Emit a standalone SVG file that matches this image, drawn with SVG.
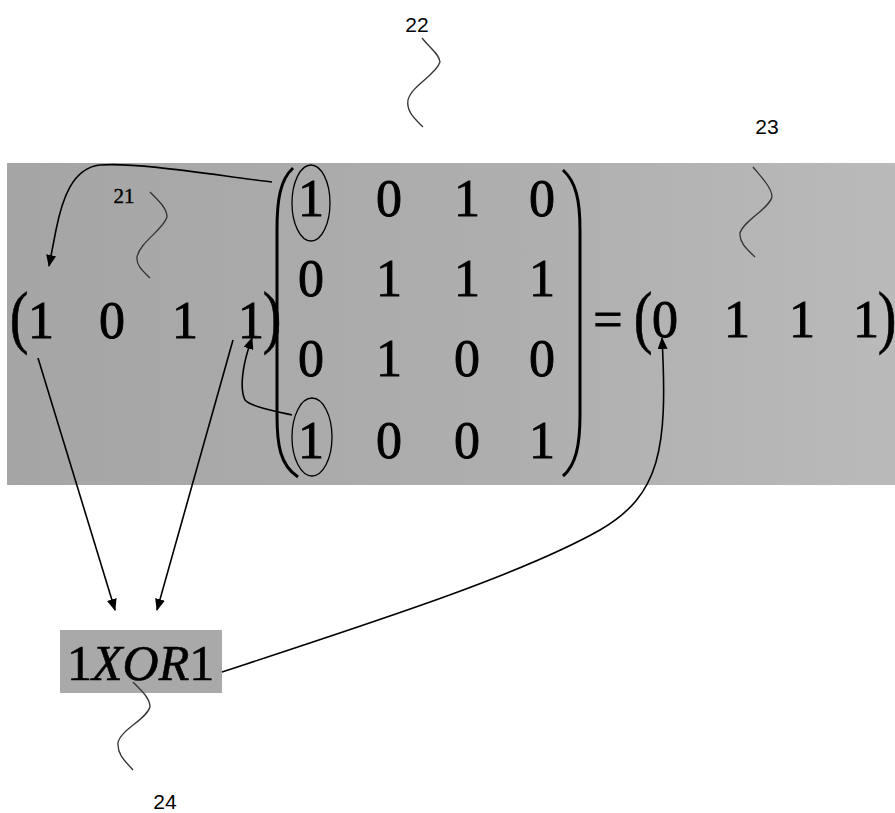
<svg xmlns="http://www.w3.org/2000/svg" width="895" height="813" viewBox="0 0 895 813">
<defs>
<linearGradient id="band" x1="0" y1="0" x2="1" y2="0">
<stop offset="0" stop-color="#a5a5a5"/>
<stop offset="0.6" stop-color="#afafaf"/>
<stop offset="1" stop-color="#bababa"/>
</linearGradient>
<marker id="arr" viewBox="0 0 12 10" refX="11" refY="5" markerWidth="12" markerHeight="10" markerUnits="userSpaceOnUse" orient="auto">
<path d="M0,0 L12,5 L0,10 Z" fill="#000"/>
</marker>
<style>
.dig{font-family:"Liberation Serif","Times New Roman",serif;font-size:52px;fill:#000;stroke:#000;stroke-width:0.9;text-anchor:middle}
.par{font-family:"Liberation Serif","Times New Roman",serif;font-size:56px;fill:#000;stroke:#000;stroke-width:0.5;text-anchor:middle}
.lbl{font-family:"Liberation Sans",Arial,sans-serif;font-size:21px;fill:#000;text-anchor:middle}
.squig{fill:none;stroke:#333;stroke-width:1.3}
.conn{fill:none;stroke:#000;stroke-width:1.6}
.brk{fill:none;stroke:#000;stroke-width:3}
.ell{fill:none;stroke:#000;stroke-width:1.3}
</style>
</defs>
<rect width="895" height="813" fill="#fff"/>
<rect x="7" y="163" width="888" height="322" fill="url(#band)"/>

<g id="vector">
<text class="par" transform="translate(19,340) scale(1,1.25)">(</text>
<text class="dig" x="41" y="338">1</text>
<text class="dig" x="112" y="338">0</text>
<text class="dig" x="185" y="338">1</text>
<text class="dig" x="251" y="338">1</text>
<text class="par" transform="translate(272,340) scale(1,1.25)">)</text>
</g>

<g id="matrix">
<path class="brk" d="M293,168 C280,180 277,200 277,230 L277,415 C277,445 280,465 298,477"/>
<path class="brk" d="M563,170 C576,182 580,200 580,230 L580,415 C580,445 576,465 563,476"/>
<text class="dig" x="311" y="216">1</text>
<text class="dig" x="389" y="216">0</text>
<text class="dig" x="467" y="216">1</text>
<text class="dig" x="542" y="216">0</text>
<text class="dig" x="311" y="296">0</text>
<text class="dig" x="389" y="296">1</text>
<text class="dig" x="467" y="296">1</text>
<text class="dig" x="542" y="296">1</text>
<text class="dig" x="311" y="376">0</text>
<text class="dig" x="389" y="376">1</text>
<text class="dig" x="467" y="376">0</text>
<text class="dig" x="542" y="376">0</text>
<text class="dig" x="311" y="458">1</text>
<text class="dig" x="389" y="458">0</text>
<text class="dig" x="467" y="458">0</text>
<text class="dig" x="542" y="458">1</text>
<ellipse class="ell" cx="311" cy="203" rx="19" ry="38"/>
<ellipse class="ell" cx="312" cy="437" rx="20" ry="39"/>
</g>

<g id="result">
<text class="dig" x="608" y="337" font-size="56">=</text>
<text class="par" transform="translate(643,340) scale(1,1.25)">(</text>
<text class="dig" x="665" y="337">0</text>
<text class="dig" x="737" y="337">1</text>
<text class="dig" x="802" y="337">1</text>
<text class="dig" x="866" y="337">1</text>
<text class="par" transform="translate(887,340) scale(1,1.25)">)</text>
</g>

<g id="xor">
<rect x="60" y="630" width="162" height="63" fill="#a9a9a9"/>
<text x="67" y="680" font-family="Liberation Serif,Times New Roman,serif" font-size="50" fill="#000" stroke="#000" stroke-width="0.6">1<tspan font-style="italic">XOR</tspan>1</text>
</g>

<g id="labels">
<text class="lbl" x="417" y="32">22</text>
<text class="lbl" x="767" y="134">23</text>
<text class="lbl" x="165" y="809">24</text>
<text x="124" y="203" font-family="Liberation Serif,Times New Roman,serif" font-size="21" fill="#000" stroke="#000" stroke-width="0.4" text-anchor="middle">21</text>
<path class="squig" d="M422,38 C430,48 440,55 440,62 C436,75 412,85 408,100 C406,112 416,120 423,127"/>
<path class="squig" d="M753,167 C762,178 772,188 772,197 C768,210 744,220 740,233 C739,243 748,250 755,257"/>
<path class="squig" d="M150,192 C158,200 167,208 167,217 C163,230 140,242 137,257 C136,266 144,272 150,278"/>
<path class="squig" d="M133,682 C141,690 150,698 150,707 C146,720 120,730 118,743 C117,755 127,763 133,770"/>
</g>

<g id="connectors">
<path class="conn" d="M272,182 C220,176 140,162 100,165 C72,168 62,200 56,230 L49,266" marker-end="url(#arr)"/>
<path class="conn" d="M292,415 C270,410 250,406 245,400 C240,390 242,370 248,350 L252,338" marker-end="url(#arr)"/>
<path class="conn" d="M38,358 L115,610" marker-end="url(#arr)"/>
<path class="conn" d="M233,340 L157,610" marker-end="url(#arr)"/>
<path class="conn" d="M222,672 C380,620 520,575 600,530 C660,495 668,450 662,338" marker-end="url(#arr)"/>
</g>
</svg>
